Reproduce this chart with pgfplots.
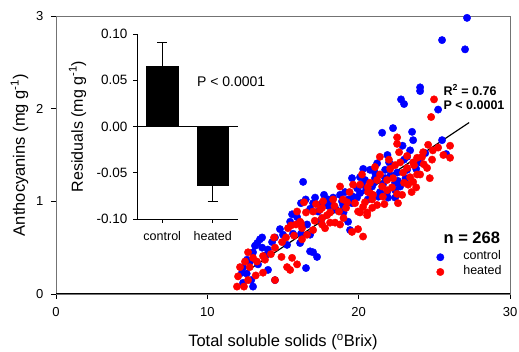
\documentclass[border=0pt]{standalone}
\usepackage{fontspec}
\setmainfont{Liberation Sans}
\usepackage{pgfplots}
\pgfplotsset{compat=1.18}
\usepackage{pgfplotstable}

\pgfplotstableread{
x y
27.16 2.98
25.51 2.74
27.03 2.64
24.06 2.23
24.06 2.19
22.80 2.10
23.00 2.05
25.25 1.99
21.55 1.74
22.27 1.79
23.53 1.75
23.60 1.66
25.51 1.66
25.78 1.51
23.40 1.55
23.20 1.48
24.06 1.42
22.01 1.42
21.22 1.41
21.08 1.31
22.54 1.31
23.20 1.34
22.41 1.20
22.74 1.16
22.41 1.12
21.41 1.10
21.88 1.10
21.94 1.04
22.41 1.04
20.42 1.23
20.89 1.16
20.22 1.18
19.56 1.25
20.09 1.26
21.08 1.25
20.09 1.09
19.89 1.04
19.63 1.05
19.10 1.10
18.31 1.04
17.71 1.07
17.12 1.04
16.99 0.98
16.19 0.98
16.33 1.21
18.24 0.96
18.97 0.96
19.30 1.02
19.56 0.98
19.30 0.78
19.43 0.69
17.32 0.89
15.93 0.83
16.59 0.75
16.79 0.64
16.19 0.65
15.66 0.65
16.06 0.77
16.13 0.55
15.00 0.64
14.47 0.61
14.28 0.56
13.62 0.61
13.48 0.59
13.15 0.52
13.02 0.45
13.62 0.50
12.82 0.35
12.36 0.29
12.62 0.37
12.29 0.23
12.36 0.12
13.02 0.08
14.01 0.26
14.47 0.15
16.52 0.28
16.79 0.46
16.99 0.45
17.25 0.40
21.75 1.34
22.21 1.39
23.00 1.45
21.75 1.25
20.75 1.34
20.49 1.12
18.77 1.07
17.98 1.02
18.51 0.91
17.52 0.80
15.47 0.78
15.27 0.53
13.88 0.42
13.35 0.32
21.00 1.20
21.60 1.18
22.10 1.28
22.60 1.22
23.10 1.25
21.30 1.05
20.60 1.02
19.90 1.14
18.90 1.00
18.00 0.95
17.60 0.98
16.80 0.92
16.50 1.02
15.60 0.86
14.80 0.70
14.00 0.48
13.30 0.55
12.60 0.22
12.90 0.15
19.00 0.88
20.30 1.35
21.90 1.50
23.80 1.35
24.40 1.52
22.90 1.60
}\controldata

\pgfplotstableread{
x y
24.98 2.10
24.79 1.91
22.54 1.69
22.54 1.62
22.67 1.53
25.25 1.58
26.04 1.60
26.04 1.47
24.52 1.36
24.19 1.48
24.06 1.29
24.26 1.53
22.74 1.42
23.20 1.49
23.60 1.42
23.86 1.47
23.66 1.39
23.20 1.36
22.93 1.31
23.40 1.26
23.86 1.29
23.27 1.18
23.60 1.21
22.27 1.25
21.88 1.12
22.87 1.07
22.60 0.98
22.54 1.08
20.95 1.07
20.89 1.02
20.22 1.29
19.63 1.18
20.75 1.20
21.55 1.16
21.88 1.23
20.29 0.94
20.56 0.85
19.96 0.89
18.77 1.16
17.58 0.93
17.91 0.85
18.31 1.02
18.97 1.02
21.08 1.37
21.41 1.29
22.08 1.35
20.09 1.18
21.22 1.23
20.62 1.10
21.22 0.96
20.42 0.99
19.76 0.98
16.39 0.99
17.18 0.97
17.65 1.00
17.45 0.91
16.52 0.88
16.99 0.89
17.58 0.82
15.93 0.89
16.13 0.78
15.86 0.75
16.26 0.71
16.99 0.69
17.58 0.75
17.78 0.71
18.11 0.77
18.44 0.77
18.77 0.75
18.11 0.88
18.70 0.89
19.17 0.93
20.09 0.88
19.96 0.70
20.29 0.62
20.56 0.88
20.75 1.09
19.23 0.99
15.53 0.74
15.73 0.63
16.59 0.64
15.33 0.71
15.20 0.61
14.94 0.56
14.41 0.61
14.47 0.50
13.68 0.41
13.81 0.37
12.69 0.45
12.49 0.35
13.02 0.39
13.28 0.35
12.16 0.29
12.03 0.19
11.96 0.08
12.42 0.08
12.69 0.15
13.68 0.23
14.47 0.15
15.27 0.29
15.47 0.26
15.93 0.32
15.60 0.39
16.26 0.59
19.56 0.67
16.19 0.76
22.41 1.39
24.59 1.61
24.85 1.45
21.60 1.05
22.20 1.15
23.00 1.20
23.50 1.10
24.30 1.40
24.90 1.55
25.60 1.50
22.00 1.45
21.40 1.48
20.60 1.15
19.40 1.10
19.00 0.82
18.40 0.95
17.10 0.79
14.20 0.43
13.20 0.20
12.80 0.29
14.90 0.40
20.90 0.93
21.70 0.97
23.80 1.15
24.70 1.25
}\heateddata

\begin{document}
\begin{tikzpicture}
\path[use as bounding box] (-56pt,-58pt) rectangle (463pt,294pt);
\begin{axis}[
  at={(0pt,0pt)}, anchor=south west,
  scale only axis, width=454pt, height=278pt,
  xmin=0, xmax=30, ymin=0, ymax=3,
  xtick={0,10,20,30}, ytick={0,1,2,3},
  xtick pos=bottom, ytick pos=left,
  tick align=outside, major tick length=5pt,
  axis line style={line width=0.9pt, black!55},
  tick style={line width=0.8pt, black},
  /pgf/number format/assume math mode=true,
  ticklabel style={font=\fontsize{13}{15}\selectfont},
  xticklabel style={yshift=-5pt},
  yticklabel style={xshift=-4pt},
  xlabel={Total soluble solids (\textsuperscript{o}Brix)},
  ylabel={Anthocyanins (mg g\textsuperscript{-1})},
  label style={font=\fontsize{16.5}{19}\selectfont},
  xlabel style={at={(axis description cs:0.5,-0.1906)}, anchor=base},
  ylabel style={at={(axis description cs:-0.0683,0.5)}, anchor=base},
  clip=false,
  legend style={draw=none, fill=none, at={(axis cs:24.92,0.49)}, anchor=north west,
    font=\fontsize{12.5}{14}\selectfont, nodes={inner sep=0pt, anchor=base west},
    row sep=4.2pt, column sep=0pt},
  legend image code/.code={\path[draw=none] (-4pt,0pt) -- (23pt,0pt); \draw[#1] plot coordinates {(0pt,2.6pt)};},
]
\addplot[only marks, mark=*, mark size=3.7pt, blue] table[x=x,y=y] {\controldata};
\addlegendentry{control}
\addplot[only marks, mark=*, mark size=3.7pt, red] table[x=x,y=y] {\heateddata};
\addlegendentry{heated}
\addplot[black, line width=1.2pt, forget plot] coordinates {(12,0.18) (27.3,1.85)};
\draw[black, line width=1pt] (rel axis cs:0,0) -- (rel axis cs:1,0);
\node[anchor=west, font=\bfseries\fontsize{12.5}{14}\selectfont] at (axis cs:25.38,2.20) {R\textsuperscript{2} = 0.76};
\node[anchor=west, font=\bfseries\fontsize{12.5}{14}\selectfont] at (axis cs:25.38,2.04) {P < 0.0001};
\node[anchor=west, font=\bfseries\fontsize{16.5}{18}\selectfont] at (axis cs:25.38,0.605) {n = 268};
\end{axis}

\begin{axis}[
  at={(81pt,75pt)}, anchor=south west,
  scale only axis, width=101pt, height=185pt,
  xmin=-0.5, xmax=1.5, ymin=-0.1, ymax=0.1,
  axis x line*=bottom, axis y line*=left,
  axis line style={line width=0.8pt},
  xtick={0,1}, xticklabels={control,heated},
  ytick={-0.1,-0.05,0,0.05,0.1},
  /pgf/number format/assume math mode=true,
  ticklabel style={font=\fontsize{13.5}{15}\selectfont},
  yticklabel style={xshift=-2pt, /pgf/number format/.cd, fixed, fixed zerofill, precision=2},
  xticklabel style={font=\fontsize{12.5}{14}\selectfont, yshift=-5pt},
  tick align=outside, major tick length=4pt,
  tick style={line width=0.8pt, black},
  ylabel={Residuals (mg g\textsuperscript{-1})},
  ylabel style={at={(axis description cs:-0.535,0.5)}, anchor=base, font=\fontsize{16}{18}\selectfont},
  clip=false,
]
\addplot[black, line width=0.8pt] coordinates {(-0.5,0) (1.5,0)};
\addplot[ybar, bar width=0.62, fill=black, draw=black,
  error bars/.cd, y dir=plus, y explicit, error mark=none,
  error bar style={line width=0.8pt, black}]
  coordinates {(0,0.0656) +- (0,0.0254)};
\addplot[ybar, bar width=0.62, fill=black, draw=black,
  error bars/.cd, y dir=minus, y explicit, error mark=none,
  error bar style={line width=0.8pt, black}]
  coordinates {(1,-0.0638) +- (0,0.0169)};
\draw[black, line width=0.8pt] (axis cs:-0.1,0.091) -- (axis cs:0.1,0.091);
\draw[black, line width=0.8pt] (axis cs:0.9,-0.0807) -- (axis cs:1.1,-0.0807);
\node[anchor=west, font=\fontsize{14}{16}\selectfont] at (axis cs:0.62,0.0486) {P < 0.0001};
\end{axis}
\end{tikzpicture}
\end{document}
